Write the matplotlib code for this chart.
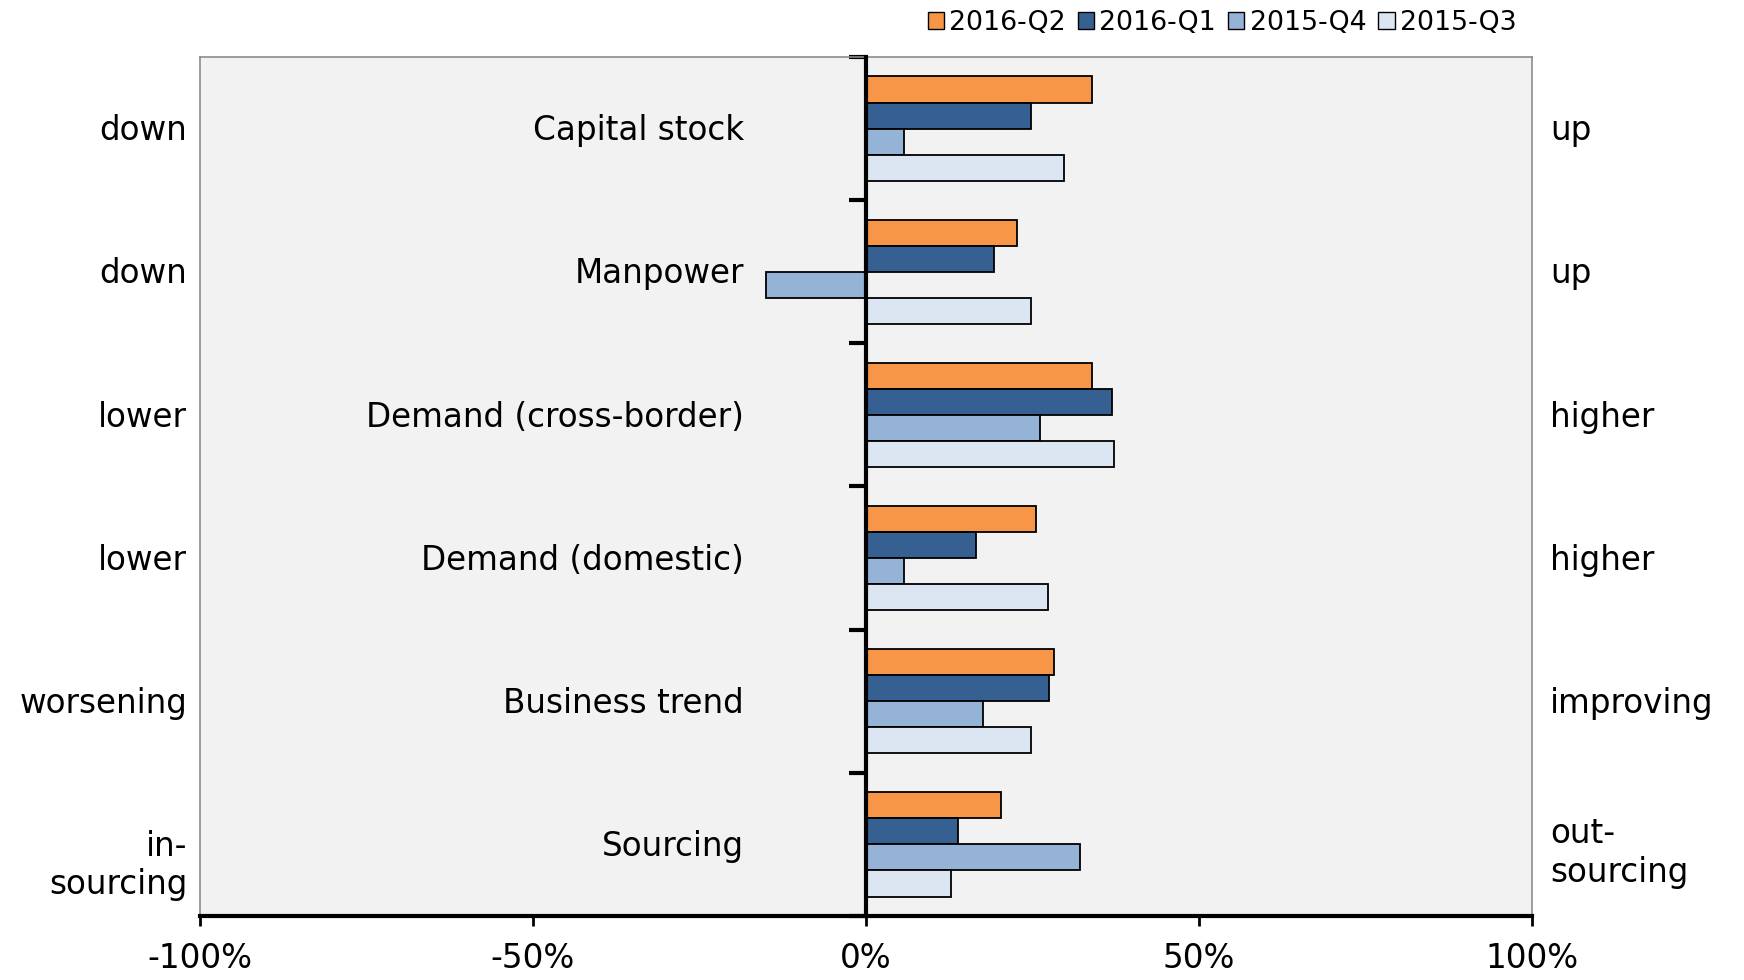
import matplotlib
matplotlib.use("Agg")
import matplotlib.pyplot as plt
import numpy as np
from matplotlib.lines import Line2D

categories = ["Capital stock", "Manpower", "Demand (cross-border)",
              "Demand (domestic)", "Business trend", "Sourcing"]
left_labels = ["down", "down", "lower", "lower", "worsening", "in-\nsourcing"]
right_labels = ["up", "up", "higher", "higher", "improving", "out-\nsourcing"]

series_names = ["2016-Q2", "2016-Q1", "2015-Q4", "2015-Q3"]
q2_2016 = [34.0, 22.7, 34.0, 25.6, 28.3, 20.3]
q1_2016 = [24.8, 19.2, 37.0, 16.5, 27.5, 13.8]
q4_2015 = [5.7, -15.0, 26.2, 5.7, 17.6, 32.1]
q3_2015 = [29.7, 24.8, 37.2, 27.3, 24.8, 12.7]
series = [q2_2016, q1_2016, q4_2015, q3_2015]
colors = ["#F79646", "#376092", "#95B3D7", "#DCE6F2"]

xticks = [-100, -50, 0, 50, 100]
xticklabels = ["-100%", "-50%", "0%", "50%", "100%"]

FS = 23.5

plt.rcParams['font.family'] = ['DejaVu Sans']
fig = plt.figure(figsize=(17.44, 9.8), dpi=100)
ax = fig.add_axes([200/1744, 1 - 916/980, 1332/1744, (916-57)/980])
ax.set_facecolor("#F2F2F2")

n = len(categories)
h = 0.182
centers = np.arange(n) + 0.5
for k, (vals, col, name) in enumerate(zip(series, colors, series_names)):
    ax.barh(centers + (k - 1.5) * h, vals, height=h, color=col,
            edgecolor="black", linewidth=1.3, label=name, zorder=3)

ax.set_xlim(-100, 100)
ax.set_ylim(n, 0)

# spines
ax.spines['left'].set_position(('data', 0))
ax.spines['left'].set_color('black')
ax.spines['left'].set_linewidth(3)
ax.spines['left'].set_zorder(4)
ax.spines['bottom'].set_color('black')
ax.spines['bottom'].set_linewidth(3)
for s in ['top', 'right']:
    ax.spines[s].set_color('#8C8C8C')
    ax.spines[s].set_linewidth(1.2)
ax.add_line(Line2D([0, 0], [0, 1], transform=ax.transAxes, color='#8C8C8C',
                   linewidth=1.2, clip_on=False))

ax.set_yticks(np.arange(n + 1))
ax.set_yticklabels([])
ax.tick_params(axis='y', direction='out', length=12, width=3, color='black')
ax.set_xticks(xticks)
ax.set_xticklabels(xticklabels, fontsize=FS)
ax.tick_params(axis='x', direction='out', length=7, width=2, color='black', pad=12)

trans = matplotlib.transforms.blended_transform_factory(ax.transAxes, ax.transData)
dy = 0.015
for i in range(n):
    ax.text(-18.3, centers[i] + dy, categories[i], ha='right', va='center', fontsize=FS)
    loff = 0.15 if "\n" in left_labels[i] else dy
    roff = 0.06 if "\n" in right_labels[i] else dy
    ax.text(-0.0095, centers[i] + loff, left_labels[i], ha='right', va='center',
            fontsize=FS, transform=trans, linespacing=1.2)
    ax.text(1.0135, centers[i] + roff, right_labels[i], ha='left', va='center',
            fontsize=FS, transform=trans, linespacing=1.2)

leg = fig.legend(loc='upper right', bbox_to_anchor=(1538/1744, 1.012), ncol=4,
                 fontsize=19.3, frameon=False, handlelength=0.6, handleheight=0.6,
                 handletextpad=0.2, columnspacing=0.45, borderpad=0.3)
for p in leg.get_patches():
    p.set_linewidth(1.0)

fig.savefig("out.png", dpi=100)
